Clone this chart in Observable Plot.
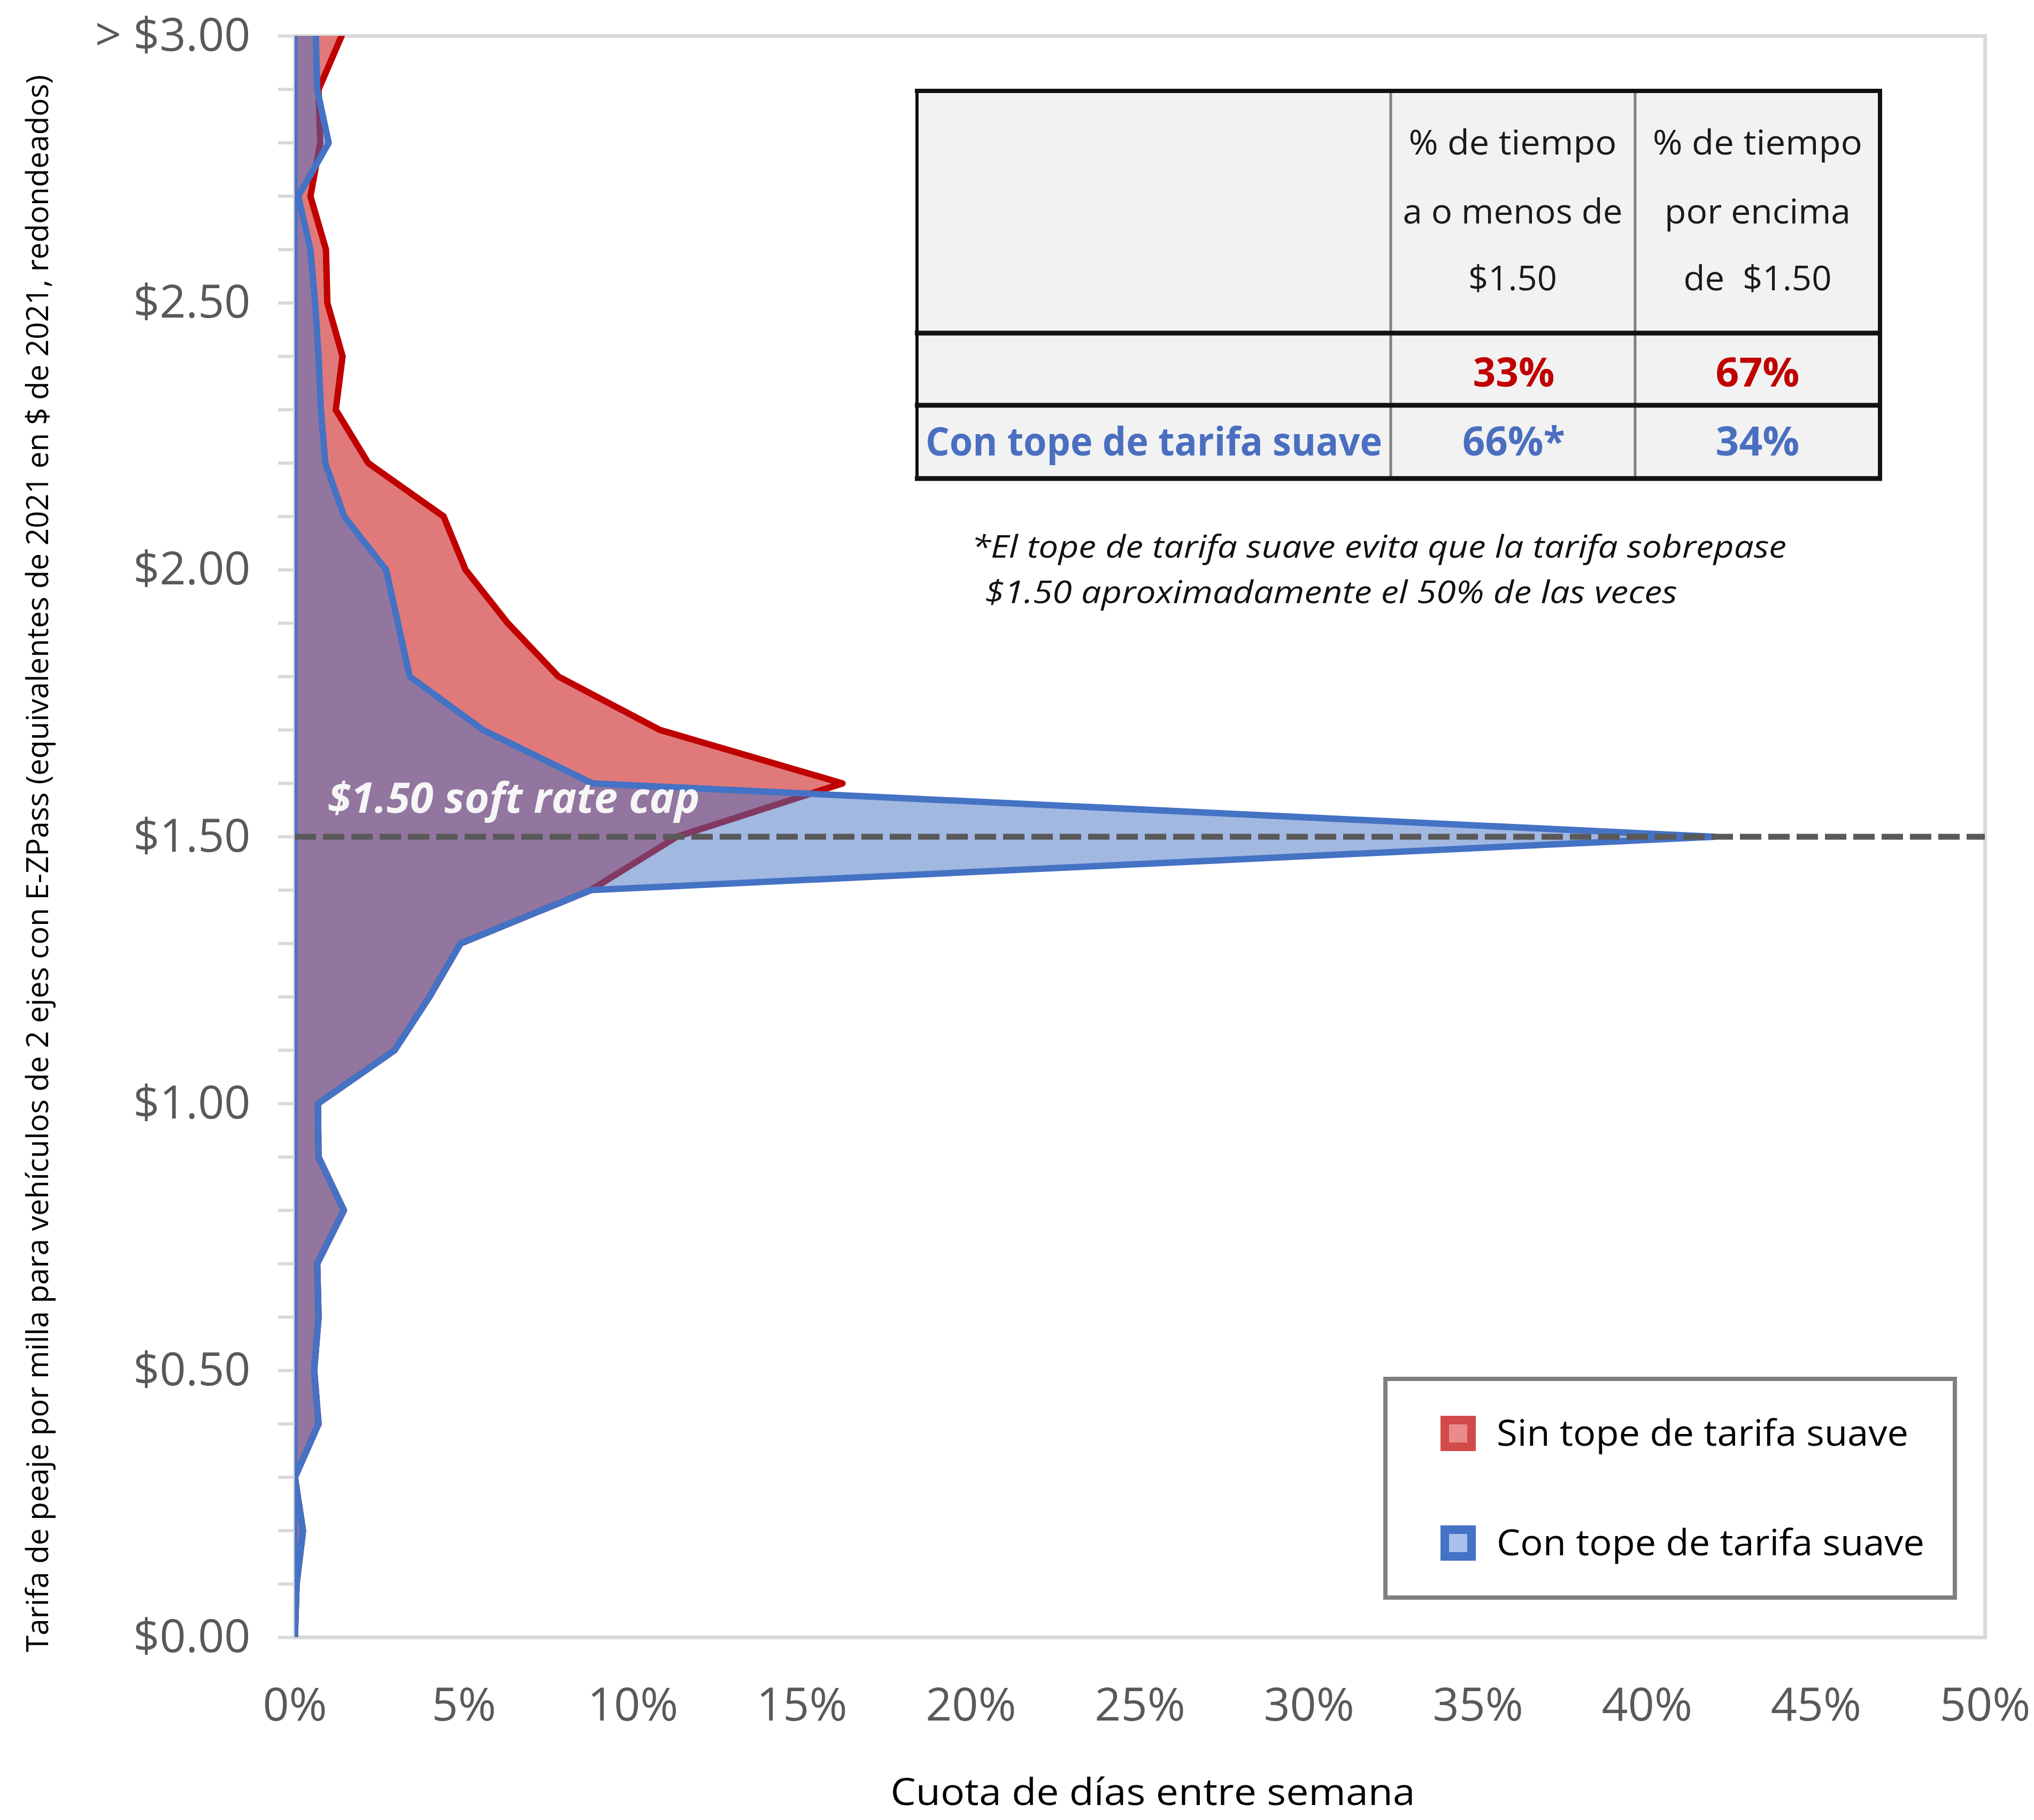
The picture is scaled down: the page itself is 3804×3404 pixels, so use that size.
<!DOCTYPE html>
<html>
<head>
<meta charset="utf-8">
<script src="https://cdn.jsdelivr.net/npm/d3@7"></script>
<script src="https://cdn.jsdelivr.net/npm/@observablehq/plot@0.6"></script>
<style>
  html, body { margin: 0; padding: 0; background: #ffffff; }
  #chart svg { display: block; }
</style>
</head>
<body>
<div id="chart"></div>
<script>
// ---------- data ----------
const fares = [0.0, 0.1, 0.2, 0.3, 0.4, 0.5, 0.6, 0.7, 0.8, 0.9,
               1.0, 1.1, 1.2, 1.3, 1.4, 1.5, 1.6, 1.7, 1.8, 1.9,
               2.0, 2.1, 2.2, 2.3, 2.4, 2.5, 2.6, 2.7, 2.8, 2.9, 3.0];
// share of weekdays (%) without soft rate cap
const sinTope = [0, 0.05, 0.24, 0, 0.7, 0.57, 0.7, 0.66, 1.45, 0.7,
                 0.68, 2.95, 3.98, 4.9, 8.75, 11.3, 16.2, 10.8, 7.8, 6.3,
                 5.05, 4.4, 2.17, 1.21, 1.41, 0.96, 0.92, 0.46, 0.75, 0.7, 1.38];
// share of weekdays (%) with soft rate cap
const conTope = [0, 0.05, 0.24, 0, 0.7, 0.57, 0.7, 0.66, 1.45, 0.7,
                 0.68, 2.95, 3.98, 4.9, 8.75, 42.0, 8.8, 5.57, 3.4, 3.05,
                 2.7, 1.46, 0.9, 0.77, 0.7, 0.6, 0.46, 0.1, 1.0, 0.66, 0.62];

const xTicks = [0, 5, 10, 15, 20, 25, 30, 35, 40, 45, 50];
const yLabelTicks = [0, 0.5, 1.0, 1.5, 2.0, 2.5, 3.0];
const yMinorTicks = d3.range(0, 31).map(i => i / 10);
const capFare = [1.5];
const capLabel = [{x: 0.97, y: 1.545, text: "$1.50 soft rate cap"}];

const yTitle = "Tarifa de peaje por milla para vehículos de 2 ejes con E-ZPass (equivalentes de 2021 en $ de 2021, redondeados)";
const xTitle = "Cuota de días entre semana";

const tableHeaderCol1 = ["% de tiempo", "a o menos de", "$1.50"];
const tableHeaderCol2 = ["% de tiempo", "por encima", "de  $1.50"];
const tableRowLabels = ["", "Con tope de tarifa suave"];
const tableBelow = ["33%", "66%*"];
const tableAbove = ["67%", "34%"];
const tableColors = ["#c00000", "#4a6fc0"];

const noteLines = ["*El tope de tarifa suave evita que la tarifa sobrepase",
                   "$1.50 aproximadamente el 50% de las veces"];

const legendLabels = ["Sin tope de tarifa suave", "Con tope de tarifa suave"];
const legendStroke = ["#d24a4a", "#4472c4"];
const legendFill = ["#e98b8b", "#a9c1ea"];

const data = fares.map((f, i) => ({fare: f, sin: sinTope[i], con: conTope[i]}));

// ---------- chart ----------
const FONT = "'Open Sans', 'Noto Sans', sans-serif";

const plot = Plot.plot({
  width: 3804,
  height: 3404,
  marginLeft: 551,
  marginRight: 92,
  marginTop: 67,
  marginBottom: 342,
  style: {fontFamily: FONT, background: "#ffffff", overflow: "visible"},
  x: {domain: [0, 50], label: null},
  y: {domain: [0, 3], label: null},
  marks: [
    Plot.frame({stroke: "#d9d9d9", strokeWidth: 7}),
    Plot.axisY({ticks: yMinorTicks, tickSize: 31, stroke: "#d9d9d9", strokeWidth: 6,
                tickFormat: () => "", label: null}),
    Plot.axisY({ticks: yLabelTicks, tickSize: 0, tickPadding: 83, fontSize: 86,
                color: "#595959", label: null,
                tickFormat: d => d === 3 ? "> $3.00" : "$" + d.toFixed(2)}),
    Plot.axisX({ticks: xTicks, tickSize: 0, tickPadding: 94, fontSize: 86,
                color: "#595959", label: null, tickFormat: d => d + "%"}),
    Plot.areaX(data, {y: "fare", x: "sin", fill: "#e07a7a", curve: "linear"}),
    Plot.lineX(data, {y: "fare", x: "sin", stroke: "#c00000", strokeWidth: 12,
                      strokeLinejoin: "round", clip: true}),
    Plot.areaX(data, {y: "fare", x: "con", fill: "#4472c4", fillOpacity: 0.5, curve: "linear"}),
    Plot.lineX(data, {y: "fare", x: "con", stroke: "#4472c4", strokeWidth: 12,
                      strokeLinejoin: "round", clip: true}),
    Plot.ruleX([0], {stroke: "#4472c4", strokeWidth: 10, clip: true}),
    Plot.ruleY(capFare, {stroke: "#595959", strokeWidth: 11, strokeDasharray: "40,13"}),
    Plot.text(capLabel, {x: "x", y: "y", text: "text", textAnchor: "start", lineAnchor: "bottom",
                         fill: "#f6f6f6", fontSize: 78, fontWeight: 700, fontStyle: "italic"})
  ]
});

document.getElementById("chart").append(plot);

// ---------- annotations (titles, table, note, legend) ----------
const svg = d3.select(plot);
const fit = (sel, w) => sel.attr("textLength", w).attr("lengthAdjust", "spacingAndGlyphs");

svg.selectAll("text").filter(function() { return this.textContent === capLabel[0].text; })
  .call(fit, 696);

// axis titles
svg.append("text")
  .attr("transform", "translate(90,1615) rotate(-90)")
  .attr("text-anchor", "middle")
  .attr("font-family", FONT).attr("font-size", 57).attr("fill", "#000")
  .text(yTitle).call(fit, 2950);

svg.append("text")
  .attr("x", 2156).attr("y", 3376)
  .attr("text-anchor", "middle")
  .attr("font-family", FONT).attr("font-size", 70).attr("fill", "#000")
  .text(xTitle).call(fit, 981);

// table
const tg = svg.append("g").attr("font-family", FONT);
tg.append("rect").attr("x", 1715).attr("y", 170).attr("width", 1801).attr("height", 725)
  .attr("fill", "#f2f2f2");
[2601, 3058].forEach(x => tg.append("line").attr("x1", x).attr("x2", x).attr("y1", 170).attr("y2", 895)
  .attr("stroke", "#808080").attr("stroke-width", 5));
[[170, 8], [623, 9], [758, 9], [895, 9]].forEach(([y, w]) => tg.append("line")
  .attr("x1", 1711).attr("x2", 3520).attr("y1", y).attr("y2", y)
  .attr("stroke", "#111").attr("stroke-width", w));
[[1715, 6], [3516, 8]].forEach(([x, w]) => tg.append("line")
  .attr("x1", x).attr("x2", x).attr("y1", 166).attr("y2", 899)
  .attr("stroke", "#111").attr("stroke-width", w));

const headerBase = [289, 418, 543];
const headerW1 = [389, 411, 166];
const headerW2 = [392, 348, 277];
tableHeaderCol1.forEach((t, i) => tg.append("text").attr("x", 2829).attr("y", headerBase[i])
  .attr("text-anchor", "middle").attr("font-size", 64).attr("fill", "#1a1a1a")
  .style("white-space", "pre").text(t).call(fit, headerW1[i]));
tableHeaderCol2.forEach((t, i) => tg.append("text").attr("x", 3287).attr("y", headerBase[i])
  .attr("text-anchor", "middle").attr("font-size", 64).attr("fill", "#1a1a1a")
  .style("white-space", "pre").text(t).call(fit, headerW2[i]));

const rowBase = [723, 852];
const belowW = [153, 192];
const aboveW = [157, 157];
tableRowLabels.forEach((t, i) => {
  if (t) tg.append("text").attr("x", 1731).attr("y", rowBase[i]).attr("text-anchor", "start")
    .attr("font-size", 74).attr("font-weight", 700).attr("fill", tableColors[i])
    .text(t).call(fit, 854);
  tg.append("text").attr("x", 2831).attr("y", rowBase[i]).attr("text-anchor", "middle")
    .attr("font-size", 75).attr("font-weight", 700).attr("fill", tableColors[i])
    .text(tableBelow[i]).call(fit, belowW[i]);
  tg.append("text").attr("x", 3287).attr("y", rowBase[i]).attr("text-anchor", "middle")
    .attr("font-size", 75).attr("font-weight", 700).attr("fill", tableColors[i])
    .text(tableAbove[i]).call(fit, aboveW[i]);
});

// note
const noteX = [1817, 1842], noteY = [1043, 1128], noteW = [1524, 1295];
noteLines.forEach((t, i) => svg.append("text").attr("x", noteX[i]).attr("y", noteY[i])
  .attr("text-anchor", "start")
  .attr("font-family", FONT).attr("font-size", 58).attr("font-style", "italic").attr("fill", "#111")
  .text(t).call(fit, noteW[i]));

// legend
const lg = svg.append("g").attr("font-family", FONT);
lg.append("rect").attr("x", 2591).attr("y", 2579).attr("width", 1065).attr("height", 409)
  .attr("fill", "#ffffff").attr("stroke", "#7f7f7f").attr("stroke-width", 8);
const swY = [2656, 2861], txY = [2704, 2909], txW = [770, 800];
legendLabels.forEach((t, i) => {
  lg.append("rect").attr("x", 2702).attr("y", swY[i]).attr("width", 50).attr("height", 50)
    .attr("fill", legendFill[i]).attr("stroke", legendStroke[i]).attr("stroke-width", 16);
  lg.append("text").attr("x", 2799).attr("y", txY[i]).attr("text-anchor", "start")
    .attr("font-size", 68).attr("fill", "#000")
    .text(t).call(fit, txW[i]);
});
</script>
</body>
</html>
